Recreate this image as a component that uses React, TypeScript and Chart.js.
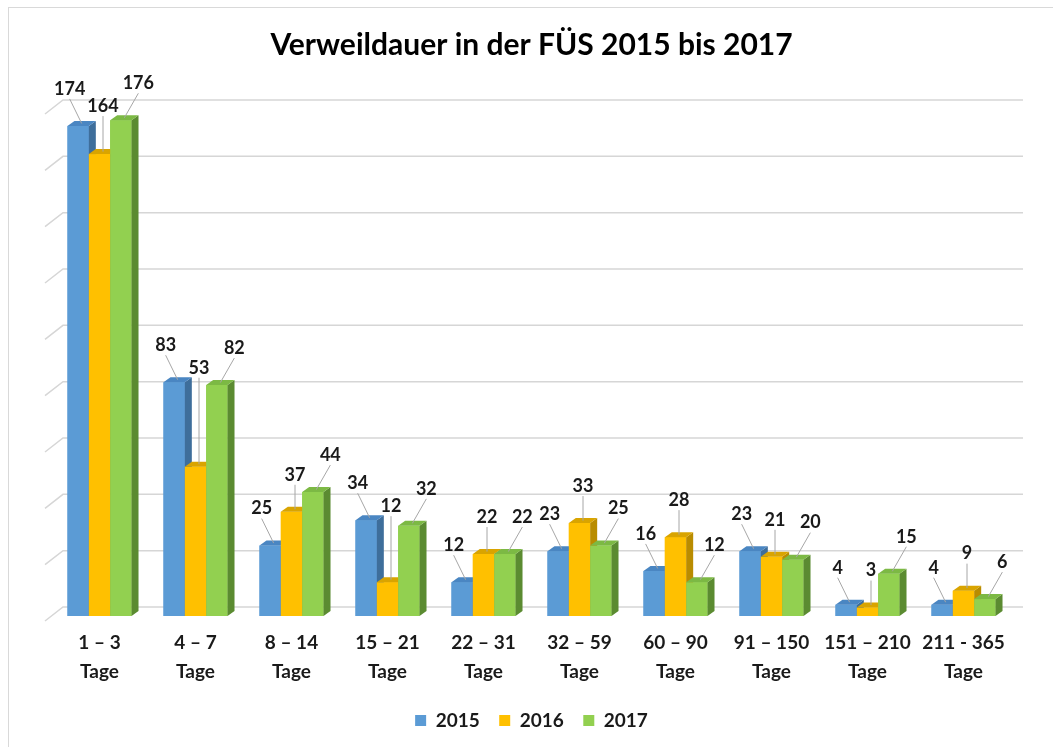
import React, { useEffect, useRef } from "react";
import { Chart, registerables } from "chart.js";

Chart.register(...registerables);

// ---------- data ----------
const titleText = "Verweildauer in der FÜS 2015 bis 2017";
const rangeLabels = [
  "1 – 3",
  "4 – 7",
  "8 – 14",
  "15 – 21",
  "22 – 31",
  "32 – 59",
  "60 – 90",
  "91 – 150",
  "151 – 210",
  "211 - 365",
];
const unitLabel = "Tage";
const seriesNames = ["2015", "2016", "2017"];
const values2015 = [174, 83, 25, 34, 12, 23, 16, 23, 4, 4];
const values2016 = [164, 53, 37, 12, 22, 33, 28, 21, 3, 9];
const values2017 = [176, 82, 44, 32, 22, 25, 12, 20, 15, 6];
const yMin = 0;
const yMax = 180;
const yStep = 20;

// ---------- styling ----------
const FONT = "Lato, 'Open Sans', sans-serif";
const palette = [
  { front: "#5B9BD5", top: "#4A86C2", side: "#3E6E9B" },
  { front: "#FFC000", top: "#D9A400", side: "#B98C00" },
  { front: "#92D050", top: "#7CB944", side: "#5B8B31" },
];
const DEPTH_X = 7;
const DEPTH_Y = -5;
const BACK_X = 11.5;
const BACK_Y = -9;
const LABEL_DX = [-12, 0, 14];
const LABEL_RISE = 37;
const LABEL_SIZE = 18;

const backWallPlugin = {
  id: "backWall",
  beforeDatasetsDraw(chart: any) {
    const { ctx, chartArea } = chart;
    const y = chart.scales.y;
    const values: number[] = [];
    for (let v = yMin; v <= yMax; v += yStep) values.push(v);
    ctx.save();
    ctx.strokeStyle = "#d6d6d6";
    ctx.lineWidth = 1.5;
    values.forEach((v) => {
      const yb = y.getPixelForValue(v) + BACK_Y;
      ctx.beginPath();
      ctx.moveTo(chartArea.left - 6.5, yb + 14);
      ctx.lineTo(chartArea.left + BACK_X, yb);
      ctx.lineTo(chartArea.right + BACK_X, yb);
      ctx.stroke();
    });
    ctx.restore();
  },
};

const bars3dPlugin = {
  id: "bars3d",
  afterDatasetsDraw(chart: any) {
    const { ctx } = chart;
    const metas = chart.data.datasets.map((_: any, j: number) => chart.getDatasetMeta(j));
    const n = chart.data.labels.length;
    ctx.save();
    for (let i = 0; i < n; i++) {
      metas.forEach((meta: any, j: number) => {
        const el = meta.data[i];
        if (!el) return;
        const c = palette[j];
        const l = el.x - el.width / 2;
        const r = el.x + el.width / 2;
        const t = el.y;
        const b = el.base;
        ctx.fillStyle = c.front;
        ctx.fillRect(l, t, r - l, b - t);
        ctx.fillStyle = c.side;
        ctx.beginPath();
        ctx.moveTo(r, t);
        ctx.lineTo(r + DEPTH_X, t + DEPTH_Y);
        ctx.lineTo(r + DEPTH_X, b + DEPTH_Y);
        ctx.lineTo(r, b);
        ctx.closePath();
        ctx.fill();
        ctx.fillStyle = c.top;
        ctx.beginPath();
        ctx.moveTo(l, t);
        ctx.lineTo(l + DEPTH_X, t + DEPTH_Y);
        ctx.lineTo(r + DEPTH_X, t + DEPTH_Y);
        ctx.lineTo(r, t);
        ctx.closePath();
        ctx.fill();
      });
    }
    ctx.restore();
  },
};

const labelsPlugin = {
  id: "barLabels",
  afterDatasetsDraw(chart: any) {
    const { ctx } = chart;
    const metas = chart.data.datasets.map((_: any, j: number) => chart.getDatasetMeta(j));
    const n = chart.data.labels.length;
    ctx.save();
    ctx.font = `bold ${LABEL_SIZE}px ${FONT}`;
    ctx.textAlign = "center";
    ctx.textBaseline = "middle";
    const th = LABEL_SIZE;
    for (let i = 0; i < n; i++) {
      const bars = metas.map((m: any) => m.data[i]);
      const rects = bars.map((el: any) => ({
        l: el.x - el.width / 2,
        r: el.x + el.width / 2 + DEPTH_X,
        t: el.y + DEPTH_Y,
        b: el.base,
      }));
      const placed: any[] = [];
      bars.forEach((el: any, j: number) => {
        const value = chart.data.datasets[j].data[i];
        const text = String(value);
        const tw = ctx.measureText(text).width;
        const ax = el.x + DEPTH_X / 2;
        const ay = el.y + DEPTH_Y / 2;
        const cx = ax + LABEL_DX[j];
        let cy = el.y - LABEL_RISE;
        let box: any;
        for (let k = 0; k < 300; k++) {
          box = { l: cx - tw / 2 - 1, r: cx + tw / 2 + 1, t: cy - th / 2, b: cy + th / 2 };
          const hit = (o: any) => box.l < o.r && box.r > o.l && box.t < o.b && box.b > o.t;
          const collide =
            placed.some(hit) || rects.some((rc: any, k2: number) => k2 !== j && hit(rc));
          if (!collide) break;
          cy -= 1;
        }
        placed.push(box);
        const sx = cx;
        const sy = box.b + 1;
        if (Math.hypot(ax - sx, ay - sy) > 6) {
          ctx.strokeStyle = "#a6a6a6";
          ctx.lineWidth = 1;
          ctx.beginPath();
          ctx.moveTo(sx, sy);
          ctx.lineTo(ax, ay);
          ctx.stroke();
        }
        ctx.fillStyle = "#1a1a1a";
        ctx.fillText(text, cx, cy);
      });
    }
    ctx.restore();
  },
};

export default function App() {
  const canvasRef = useRef<HTMLCanvasElement | null>(null);

  useEffect(() => {
    const canvas = canvasRef.current;
    if (!canvas) return;
    const seriesValues = [values2015, values2016, values2017];
    const chart = new Chart(canvas, {
      type: "bar",
      data: {
        labels: rangeLabels.map((r) => [r, unitLabel]),
        datasets: seriesNames.map((name, j) => ({
          label: name,
          data: seriesValues[j],
          backgroundColor: palette[j].front,
          borderWidth: 0,
          categoryPercentage: 0.667,
          barPercentage: 1,
        })),
      },
      options: {
        responsive: false,
        devicePixelRatio: 1,
        animation: false,
        layout: { padding: { left: 42.5, right: 41.5, top: 0, bottom: 7 } },
        plugins: {
          title: {
            display: true,
            text: titleText,
            color: "#000",
            font: { family: FONT, size: 30, weight: "bold", lineHeight: 1.2 },
            padding: { top: 19, bottom: 46 },
          },
          legend: {
            position: "bottom",
            labels: {
              boxWidth: 11,
              boxHeight: 11,
              padding: 19.5,
              color: "#1a1a1a",
              font: { family: FONT, size: 19, weight: "bold" },
            },
          },
          tooltip: { enabled: false },
        },
        scales: {
          x: {
            grid: { display: false, drawTicks: false },
            border: { display: false },
            afterFit: (scale: any) => {
              scale.height = 75.5;
            },
            ticks: {
              color: "#1a1a1a",
              padding: 13,
              maxRotation: 0,
              autoSkip: false,
              font: { family: FONT, size: 19, weight: "bold", lineHeight: 1.5 },
            },
          },
          y: {
            display: false,
            min: yMin,
            max: yMax,
            ticks: { stepSize: yStep },
          },
        },
      },
      plugins: [backWallPlugin, bars3dPlugin, labelsPlugin],
    } as any);
    return () => chart.destroy();
  }, []);

  return (
    <div
      style={{
        position: "fixed",
        left: 8,
        top: 7,
        width: 1045,
        height: 740,
        borderTop: "1px solid #d9d9d9",
        borderLeft: "1px solid #d9d9d9",
        background: "#fff",
      }}
    >
      <canvas ref={canvasRef} width={1044} height={739} style={{ display: "block", width: 1044, height: 739 }} />
    </div>
  );
}
